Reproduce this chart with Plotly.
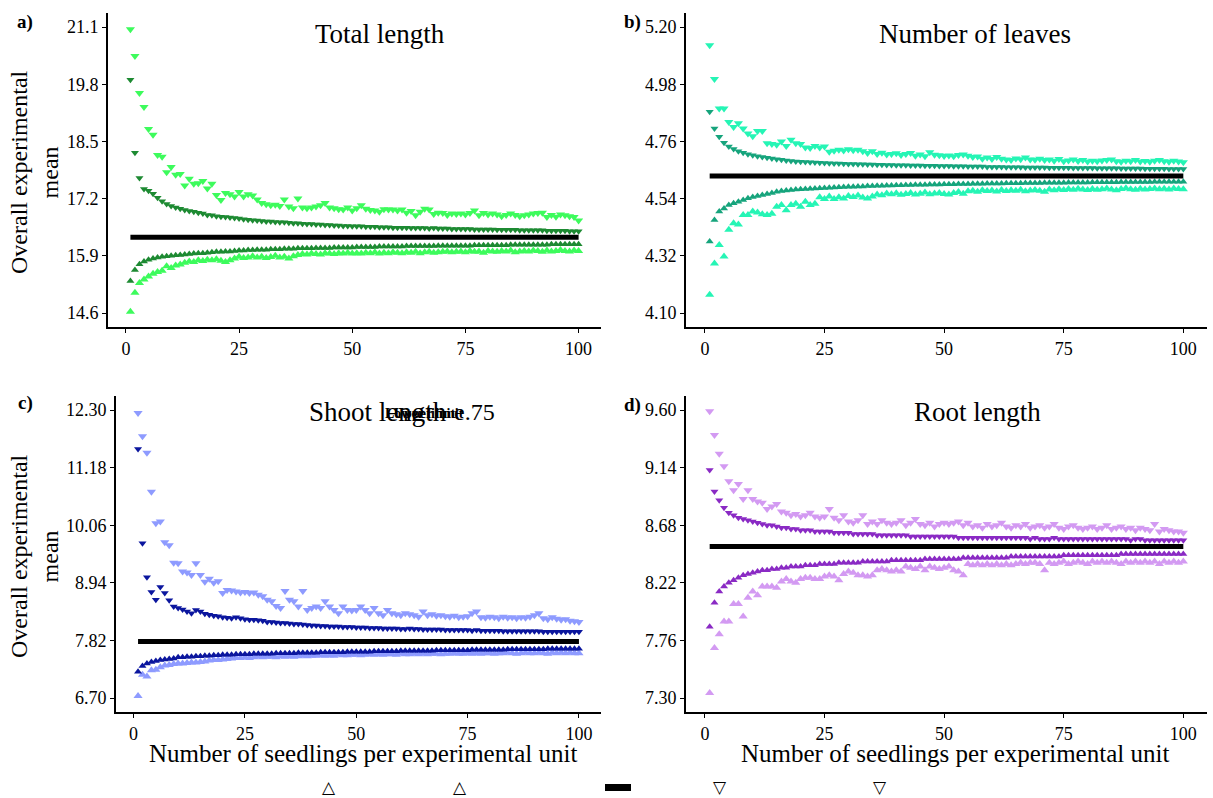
import plotly.graph_objects as go

W, H = 1213, 798

n = list(range(1, 101))

# ---------------- Panel a: Total length ----------------
a_light_up = [21.05, 20.44, 19.60, 19.28, 18.78, 18.65, 18.19, 18.15, 17.80, 17.92,
              17.74, 17.76, 17.50, 17.65, 17.54, 17.55, 17.60, 17.43, 17.54, 17.28,
              17.17, 17.33, 17.30, 17.25, 17.35, 17.25, 17.30, 17.27, 17.18, 17.10,
              17.07, 17.05, 17.06, 17.03, 17.18, 17.02, 16.98, 17.20, 17.00, 16.98,
              17.00, 17.02, 17.05, 17.10, 17.00, 16.98, 16.96, 16.95, 17.00, 16.93,
              16.98, 17.05, 16.97, 16.94, 16.93, 16.90, 16.96, 16.95, 16.95, 16.93,
              16.95, 16.88, 16.92, 16.82, 16.90, 16.97, 16.95, 16.85, 16.88, 16.87,
              16.83, 16.86, 16.85, 16.86, 16.84, 16.87, 16.93, 16.82, 16.87, 16.84,
              16.86, 16.84, 16.80, 16.83, 16.86, 16.83, 16.80, 16.82, 16.84, 16.86,
              16.87, 16.88, 16.78, 16.83, 16.79, 16.84, 16.82, 16.80, 16.78, 16.70]
a_dark_up = [19.90, 18.24, 17.67, 17.42, 17.38, 17.31, 17.22, 17.14, 17.08, 17.03,
             17.00, 16.97, 16.94, 16.92, 16.90, 16.88, 16.86, 16.83, 16.82, 16.80,
             16.79, 16.78, 16.77, 16.76, 16.75, 16.73, 16.72, 16.71, 16.70, 16.69,
             16.68, 16.68, 16.67, 16.66, 16.66, 16.65, 16.64, 16.64, 16.63, 16.62,
             16.62, 16.61, 16.61, 16.60, 16.60, 16.59, 16.59, 16.58, 16.58, 16.57,
             16.57, 16.57, 16.56, 16.56, 16.56, 16.55, 16.55, 16.55, 16.54, 16.54,
             16.54, 16.54, 16.53, 16.53, 16.53, 16.53, 16.52, 16.53, 16.52, 16.52,
             16.52, 16.51, 16.51, 16.51, 16.51, 16.51, 16.50, 16.50, 16.50, 16.50,
             16.50, 16.49, 16.49, 16.49, 16.49, 16.49, 16.48, 16.48, 16.48, 16.48,
             16.48, 16.48, 16.47, 16.47, 16.47, 16.47, 16.47, 16.46, 16.46, 16.46]
a_dark_lo = [15.33, 15.58, 15.71, 15.77, 15.81, 15.84, 15.86, 15.88, 15.89, 15.90,
             15.91, 15.92, 15.93, 15.94, 15.95, 15.96, 15.96, 15.97, 15.98, 15.99,
             15.99, 16.00, 16.00, 16.01, 16.02, 16.02, 16.03, 16.03, 16.04, 16.04,
             16.04, 16.05, 16.05, 16.05, 16.06, 16.06, 16.06, 16.07, 16.07, 16.07,
             16.07, 16.08, 16.08, 16.08, 16.08, 16.09, 16.09, 16.09, 16.09, 16.09,
             16.10, 16.10, 16.10, 16.10, 16.10, 16.11, 16.11, 16.11, 16.11, 16.11,
             16.11, 16.12, 16.12, 16.12, 16.12, 16.12, 16.12, 16.12, 16.13, 16.13,
             16.13, 16.13, 16.13, 16.13, 16.13, 16.13, 16.14, 16.14, 16.14, 16.14,
             16.14, 16.14, 16.14, 16.14, 16.15, 16.15, 16.15, 16.15, 16.15, 16.15,
             16.15, 16.15, 16.15, 16.16, 16.16, 16.16, 16.16, 16.16, 16.16, 16.16]
a_light_lo = [14.63, 15.06, 15.28, 15.36, 15.43, 15.49, 15.53, 15.56, 15.66, 15.62,
              15.68, 15.70, 15.74, 15.77, 15.76, 15.80, 15.78, 15.81, 15.80, 15.82,
              15.79, 15.76, 15.80, 15.84, 15.88, 15.85, 15.86, 15.89, 15.86, 15.88,
              15.85, 15.87, 15.90, 15.86, 15.88, 15.84, 15.89, 15.92, 15.94, 15.93,
              15.95, 15.94, 15.93, 15.96, 15.95, 15.94, 15.96, 15.95, 15.97, 15.95,
              15.96, 15.95, 15.97, 15.96, 15.98, 15.95, 15.97, 15.96, 15.98, 15.97,
              15.96, 15.98, 15.97, 15.99, 15.96, 15.98, 15.99, 15.97, 15.98, 15.99,
              16.00, 15.98, 15.99, 16.00, 15.98, 16.01, 15.99, 16.00, 15.97, 16.01,
              16.00, 15.99, 16.01, 16.00, 16.02, 15.98, 16.00, 16.01, 16.00, 16.02,
              16.01, 15.99, 16.02, 16.00, 16.01, 16.03, 16.01, 16.00, 16.02, 16.01]
a_mean = 16.32
a_ticks = [14.6, 15.9, 17.2, 18.5, 19.8, 21.1]
a_ticktext = ["14.6", "15.9", "17.2", "18.5", "19.8", "21.1"]

# ---------------- Panel b: Number of leaves ----------------
b_light_up = [5.130, 5.000, 4.887, 4.887, 4.835, 4.815, 4.830, 4.810, 4.790, 4.780,
              4.800, 4.800, 4.753, 4.750, 4.747, 4.760, 4.742, 4.766, 4.753, 4.750,
              4.737, 4.735, 4.742, 4.737, 4.740, 4.720, 4.724, 4.728, 4.725, 4.730,
              4.726, 4.728, 4.722, 4.715, 4.722, 4.712, 4.716, 4.710, 4.712, 4.714,
              4.708, 4.712, 4.715, 4.705, 4.710, 4.703, 4.718, 4.709, 4.707, 4.704,
              4.706, 4.703, 4.708, 4.710, 4.705, 4.700, 4.702, 4.693, 4.698, 4.692,
              4.700, 4.693, 4.690, 4.688, 4.694, 4.691, 4.698, 4.690, 4.689, 4.693,
              4.688, 4.690, 4.686, 4.692, 4.684, 4.687, 4.690, 4.685, 4.688, 4.683,
              4.686, 4.684, 4.687, 4.688, 4.690, 4.684, 4.682, 4.686, 4.684, 4.688,
              4.683, 4.685, 4.682, 4.686, 4.688, 4.684, 4.682, 4.686, 4.683, 4.680]
b_dark_up = [4.874, 4.810, 4.778, 4.755, 4.740, 4.731, 4.722, 4.716, 4.711, 4.707,
             4.703, 4.700, 4.697, 4.694, 4.691, 4.689, 4.687, 4.685, 4.683, 4.682,
             4.681, 4.680, 4.679, 4.678, 4.677, 4.676, 4.675, 4.675, 4.674, 4.673,
             4.673, 4.672, 4.672, 4.671, 4.671, 4.670, 4.670, 4.669, 4.669, 4.668,
             4.668, 4.668, 4.667, 4.667, 4.667, 4.666, 4.666, 4.666, 4.665, 4.665,
             4.665, 4.664, 4.664, 4.664, 4.663, 4.663, 4.663, 4.663, 4.662, 4.662,
             4.662, 4.662, 4.661, 4.661, 4.661, 4.661, 4.660, 4.660, 4.660, 4.660,
             4.660, 4.659, 4.659, 4.659, 4.659, 4.659, 4.658, 4.658, 4.658, 4.658,
             4.658, 4.657, 4.657, 4.657, 4.657, 4.657, 4.656, 4.656, 4.656, 4.656,
             4.656, 4.655, 4.655, 4.655, 4.655, 4.655, 4.654, 4.654, 4.654, 4.654]
b_dark_lo = [4.375, 4.458, 4.490, 4.502, 4.515, 4.522, 4.528, 4.535, 4.541, 4.546,
             4.550, 4.554, 4.558, 4.562, 4.566, 4.569, 4.571, 4.573, 4.575, 4.576,
             4.577, 4.578, 4.579, 4.580, 4.581, 4.582, 4.583, 4.584, 4.585, 4.586,
             4.586, 4.587, 4.587, 4.588, 4.588, 4.589, 4.589, 4.590, 4.590, 4.591,
             4.591, 4.592, 4.592, 4.593, 4.593, 4.593, 4.594, 4.594, 4.594, 4.595,
             4.595, 4.595, 4.596, 4.596, 4.596, 4.597, 4.597, 4.597, 4.598, 4.598,
             4.598, 4.598, 4.599, 4.599, 4.599, 4.599, 4.600, 4.600, 4.600, 4.600,
             4.601, 4.601, 4.601, 4.601, 4.601, 4.602, 4.602, 4.602, 4.602, 4.602,
             4.603, 4.603, 4.603, 4.603, 4.603, 4.603, 4.604, 4.604, 4.604, 4.604,
             4.604, 4.604, 4.604, 4.605, 4.605, 4.605, 4.605, 4.605, 4.605, 4.605]
b_light_lo = [4.170, 4.290, 4.362, 4.317, 4.420, 4.445, 4.440, 4.477, 4.477, 4.490,
              4.487, 4.480, 4.477, 4.482, 4.509, 4.515, 4.495, 4.515, 4.520, 4.509,
              4.528, 4.515, 4.520, 4.545, 4.538, 4.548, 4.538, 4.545, 4.540, 4.550,
              4.546, 4.552, 4.544, 4.540, 4.548, 4.556, 4.553, 4.560, 4.557, 4.561,
              4.555, 4.558, 4.562, 4.556, 4.559, 4.563, 4.557, 4.560, 4.562, 4.558,
              4.556, 4.562, 4.565, 4.559, 4.568, 4.570, 4.566, 4.572, 4.569, 4.571,
              4.567, 4.573, 4.569, 4.572, 4.570, 4.574, 4.568, 4.571, 4.573, 4.570,
              4.566, 4.575, 4.572, 4.576, 4.573, 4.577, 4.574, 4.578, 4.575, 4.573,
              4.577, 4.574, 4.576, 4.579, 4.575, 4.572, 4.577, 4.580, 4.576, 4.574,
              4.578, 4.575, 4.577, 4.579, 4.576, 4.578, 4.575, 4.579, 4.577, 4.576]
b_mean = 4.627
b_ticks = [4.10, 4.32, 4.54, 4.76, 4.98, 5.20]
b_ticktext = ["4.10", "4.32", "4.54", "4.76", "4.98", "5.20"]

# ---------------- Panel c: Shoot length ----------------
c_light_up = [12.24, 11.79, 11.47, 10.71, 10.10, 10.13, 9.73, 9.67, 9.33, 9.32,
              9.16, 9.14, 9.09, 9.32, 9.09, 8.96, 9.02, 8.94, 8.97, 8.74,
              8.80, 8.79, 8.77, 8.75, 8.76, 8.74, 8.75, 8.71, 8.68, 8.61,
              8.58, 8.49, 8.45, 8.78, 8.61, 8.58, 8.48, 8.78, 8.41, 8.45,
              8.48, 8.45, 8.58, 8.48, 8.41, 8.35, 8.48, 8.41, 8.40, 8.41,
              8.48, 8.41, 8.35, 8.45, 8.35, 8.31, 8.41, 8.35, 8.33, 8.31,
              8.35, 8.33, 8.31, 8.28, 8.38, 8.31, 8.33, 8.30, 8.31, 8.29,
              8.28, 8.30, 8.27, 8.28, 8.29, 8.35, 8.38, 8.27, 8.26, 8.28,
              8.27, 8.25, 8.28, 8.26, 8.27, 8.25, 8.27, 8.26, 8.28, 8.31,
              8.35, 8.25, 8.23, 8.27, 8.24, 8.22, 8.23, 8.20, 8.19, 8.18]
c_dark_up = [11.54, 9.71, 9.05, 8.76, 8.61, 8.86, 8.74, 8.60, 8.48, 8.45,
             8.42, 8.38, 8.35, 8.41, 8.38, 8.34, 8.32, 8.30, 8.29, 8.27,
             8.26, 8.25, 8.27, 8.25, 8.23, 8.22, 8.22, 8.21, 8.20, 8.18,
             8.18, 8.17, 8.16, 8.16, 8.15, 8.14, 8.14, 8.13, 8.12, 8.11,
             8.11, 8.10, 8.10, 8.09, 8.09, 8.09, 8.08, 8.08, 8.08, 8.07,
             8.07, 8.07, 8.06, 8.06, 8.06, 8.05, 8.05, 8.05, 8.05, 8.04,
             8.04, 8.05, 8.04, 8.04, 8.03, 8.03, 8.03, 8.03, 8.03, 8.02,
             8.02, 8.02, 8.02, 8.02, 8.02, 8.01, 8.02, 8.01, 8.01, 8.01,
             8.01, 8.01, 8.00, 8.00, 8.00, 8.00, 8.00, 8.00, 8.00, 8.00,
             8.00, 7.99, 7.99, 7.99, 7.99, 7.99, 7.99, 7.99, 7.99, 7.99]
c_dark_lo = [7.21, 7.32, 7.37, 7.40, 7.42, 7.44, 7.45, 7.46, 7.47, 7.49,
             7.49, 7.50, 7.50, 7.51, 7.51, 7.52, 7.52, 7.53, 7.53, 7.54,
             7.54, 7.54, 7.55, 7.55, 7.55, 7.55, 7.56, 7.56, 7.56, 7.56,
             7.56, 7.57, 7.57, 7.57, 7.57, 7.57, 7.58, 7.58, 7.58, 7.58,
             7.58, 7.59, 7.59, 7.59, 7.59, 7.59, 7.59, 7.60, 7.60, 7.60,
             7.60, 7.60, 7.60, 7.61, 7.61, 7.61, 7.61, 7.61, 7.61, 7.62,
             7.62, 7.62, 7.62, 7.62, 7.62, 7.62, 7.62, 7.63, 7.63, 7.63,
             7.63, 7.63, 7.63, 7.63, 7.63, 7.64, 7.64, 7.64, 7.64, 7.64,
             7.64, 7.64, 7.64, 7.65, 7.65, 7.65, 7.65, 7.65, 7.65, 7.65,
             7.65, 7.65, 7.66, 7.66, 7.66, 7.66, 7.66, 7.66, 7.66, 7.66]
c_light_lo = [6.74, 7.15, 7.12, 7.24, 7.25, 7.30, 7.33, 7.34, 7.36, 7.37,
              7.37, 7.38, 7.39, 7.39, 7.40, 7.41, 7.43, 7.44, 7.44, 7.45,
              7.46, 7.47, 7.48, 7.48, 7.49, 7.48, 7.49, 7.50, 7.49, 7.50,
              7.50, 7.49, 7.51, 7.50, 7.51, 7.50, 7.51, 7.52, 7.51, 7.52,
              7.52, 7.53, 7.52, 7.53, 7.52, 7.54, 7.53, 7.53, 7.54, 7.54,
              7.53, 7.54, 7.55, 7.54, 7.55, 7.54, 7.55, 7.55, 7.54, 7.56,
              7.55, 7.55, 7.56, 7.55, 7.56, 7.55, 7.56, 7.56, 7.55, 7.56,
              7.56, 7.57, 7.56, 7.56, 7.57, 7.56, 7.57, 7.56, 7.57, 7.57,
              7.56, 7.57, 7.57, 7.58, 7.57, 7.56, 7.57, 7.58, 7.57, 7.57,
              7.58, 7.57, 7.56, 7.58, 7.57, 7.58, 7.57, 7.58, 7.57, 7.57]
c_mean = 7.80
c_ticks = [6.70, 7.82, 8.94, 10.06, 11.18, 12.30]
c_ticktext = ["6.70", "7.82", "8.94", "10.06", "11.18", "12.30"]

# ---------------- Panel d: Root length ----------------
d_light_up = [9.59, 9.40, 9.25, 9.15, 9.03, 8.96, 9.01, 8.89, 8.96, 8.89,
              8.87, 8.86, 8.81, 8.83, 8.85, 8.79, 8.78, 8.76, 8.77, 8.75,
              8.76, 8.78, 8.75, 8.74, 8.75, 8.81, 8.74, 8.72, 8.76, 8.71,
              8.70, 8.72, 8.76, 8.69, 8.71, 8.69, 8.72, 8.70, 8.69, 8.70,
              8.72, 8.68, 8.70, 8.73, 8.69, 8.68, 8.70, 8.67, 8.69, 8.70,
              8.69, 8.70, 8.71, 8.68, 8.70, 8.67, 8.68, 8.66, 8.69, 8.67,
              8.68, 8.70, 8.67, 8.66, 8.68, 8.67, 8.69, 8.66, 8.67, 8.68,
              8.66, 8.67, 8.69, 8.66, 8.65, 8.67, 8.68, 8.66, 8.65, 8.66,
              8.67, 8.65, 8.66, 8.68, 8.65, 8.66, 8.67, 8.65, 8.66, 8.64,
              8.66, 8.65, 8.64, 8.69, 8.63, 8.65, 8.64, 8.63, 8.63, 8.62]
d_dark_up = [9.12, 8.95, 8.88, 8.82, 8.78, 8.76, 8.74, 8.73, 8.72, 8.71,
             8.70, 8.69, 8.68, 8.68, 8.67, 8.66, 8.66, 8.65, 8.65, 8.64,
             8.64, 8.64, 8.63, 8.63, 8.63, 8.63, 8.62, 8.62, 8.62, 8.62,
             8.61, 8.61, 8.61, 8.61, 8.61, 8.60, 8.60, 8.60, 8.60, 8.60,
             8.60, 8.60, 8.59, 8.59, 8.59, 8.59, 8.59, 8.59, 8.59, 8.59,
             8.59, 8.59, 8.58, 8.58, 8.58, 8.58, 8.58, 8.58, 8.58, 8.58,
             8.58, 8.58, 8.58, 8.58, 8.58, 8.58, 8.58, 8.57, 8.58, 8.57,
             8.57, 8.57, 8.58, 8.57, 8.57, 8.57, 8.57, 8.57, 8.57, 8.57,
             8.57, 8.57, 8.57, 8.57, 8.57, 8.57, 8.57, 8.57, 8.56, 8.57,
             8.57, 8.56, 8.56, 8.56, 8.56, 8.56, 8.56, 8.56, 8.56, 8.56]
d_dark_lo = [7.87, 8.06, 8.15, 8.19, 8.22, 8.24, 8.26, 8.28, 8.29, 8.30,
             8.31, 8.32, 8.32, 8.33, 8.33, 8.34, 8.34, 8.35, 8.35, 8.35,
             8.36, 8.36, 8.36, 8.37, 8.37, 8.37, 8.37, 8.38, 8.38, 8.38,
             8.38, 8.38, 8.39, 8.39, 8.39, 8.39, 8.39, 8.39, 8.40, 8.40,
             8.40, 8.40, 8.40, 8.40, 8.40, 8.41, 8.41, 8.41, 8.41, 8.41,
             8.41, 8.41, 8.41, 8.42, 8.42, 8.42, 8.42, 8.42, 8.42, 8.42,
             8.42, 8.42, 8.42, 8.43, 8.43, 8.43, 8.43, 8.43, 8.43, 8.43,
             8.43, 8.43, 8.43, 8.43, 8.44, 8.44, 8.44, 8.44, 8.44, 8.44,
             8.44, 8.44, 8.44, 8.44, 8.44, 8.44, 8.45, 8.45, 8.45, 8.45,
             8.45, 8.45, 8.45, 8.45, 8.45, 8.45, 8.45, 8.45, 8.45, 8.45]
d_light_lo = [7.34, 7.70, 7.81, 7.91, 7.91, 8.05, 8.05, 7.95, 8.10, 8.15,
              8.12, 8.19, 8.19, 8.19, 8.18, 8.23, 8.25, 8.23, 8.22, 8.25,
              8.26, 8.26, 8.25, 8.25, 8.27, 8.28, 8.27, 8.24, 8.29, 8.31,
              8.30, 8.28, 8.28, 8.27, 8.28, 8.32, 8.33, 8.32, 8.31, 8.32,
              8.31, 8.35, 8.34, 8.33, 8.35, 8.32, 8.35, 8.34, 8.33, 8.34,
              8.35, 8.32, 8.31, 8.28, 8.37, 8.36, 8.37, 8.36, 8.37, 8.36,
              8.37, 8.36, 8.37, 8.36, 8.37, 8.38, 8.37, 8.38, 8.38, 8.37,
              8.32, 8.38, 8.37, 8.38, 8.39, 8.37, 8.38, 8.39, 8.38, 8.37,
              8.39, 8.38, 8.39, 8.38, 8.39, 8.38, 8.37, 8.39, 8.38, 8.39,
              8.38, 8.39, 8.38, 8.39, 8.37, 8.39, 8.38, 8.39, 8.38, 8.39]
d_mean = 8.51
d_ticks = [7.30, 7.76, 8.22, 8.68, 9.14, 9.60]
d_ticktext = ["7.30", "7.76", "8.22", "8.68", "9.14", "9.60"]

x_ticks = [0, 25, 50, 75, 100]
titles = ["Total length", "Number of leaves", "Shoot length", "Root length"]
labels = ["a)", "b)", "c)", "d)"]
y_title = "Overall experimental<br>mean"
x_title = "Number of seedlings per experimental unit"

panels = [
    dict(lu=a_light_up, du=a_dark_up, dl=a_dark_lo, ll=a_light_lo, mean=a_mean,
         ticks=a_ticks, tt=a_ticktext, light="#3dfb5c", dark="#1d8a32"),
    dict(lu=b_light_up, du=b_dark_up, dl=b_dark_lo, ll=b_light_lo, mean=b_mean,
         ticks=b_ticks, tt=b_ticktext, light="#25f5b5", dark="#16a47c"),
    dict(lu=c_light_up, du=c_dark_up, dl=c_dark_lo, ll=c_light_lo, mean=c_mean,
         ticks=c_ticks, tt=c_ticktext, light="#8e9bff", dark="#0b169e"),
    dict(lu=d_light_up, du=d_dark_up, dl=d_dark_lo, ll=d_light_lo, mean=d_mean,
         ticks=d_ticks, tt=d_ticktext, light="#d39af2", dark="#8a2ac4"),
]

# layout geometry in pixels (left, right, top, bottom)
boxes = [(108, 601, 12.7, 327.3), (686, 1207, 12.7, 327.3),
         (116, 601, 395.6, 712.4), (686, 1207, 395.6, 712.4)]

FONT = "Liberation Serif, Times New Roman, serif"

fig = go.Figure()
layout = dict(width=W, height=H, margin=dict(l=0, r=0, t=0, b=0),
              paper_bgcolor="white", plot_bgcolor="white", showlegend=False,
              font=dict(family=FONT, color="black"))

for i, p in enumerate(panels):
    k = "" if i == 0 else str(i + 1)
    xa, ya = "x" + k, "y" + k
    mk = lambda sym, col, sz: dict(symbol=sym, color=col, size=sz, line=dict(width=0))
    fig.add_trace(go.Scatter(x=n, y=p["lu"], mode="markers", xaxis=xa, yaxis=ya,
                             marker=mk("triangle-down", p["light"], 8)))
    fig.add_trace(go.Scatter(x=n, y=p["ll"], mode="markers", xaxis=xa, yaxis=ya,
                             marker=mk("triangle-up", p["light"], 8)))
    fig.add_trace(go.Scatter(x=n, y=p["du"], mode="markers", xaxis=xa, yaxis=ya,
                             marker=mk("triangle-down", p["dark"], 7)))
    fig.add_trace(go.Scatter(x=n, y=p["dl"], mode="markers", xaxis=xa, yaxis=ya,
                             marker=mk("triangle-up", p["dark"], 7)))
    fig.add_trace(go.Scatter(x=n, y=[p["mean"]] * len(n), mode="lines", xaxis=xa, yaxis=ya,
                             line=dict(color="black", width=5)))
    l, r, t, b = boxes[i]
    lo, hi = p["ticks"][0], p["ticks"][-1]
    pad = (hi - lo) * 0.05
    common = dict(showline=True, linecolor="black", linewidth=1.6, ticks="outside",
                  ticklen=4, tickwidth=1.2, tickcolor="black", showgrid=False,
                  zeroline=False, tickfont=dict(family=FONT, size=18, color="black"))
    layout["xaxis" + k] = dict(domain=[l / W, r / W], range=[-3.95, 104.95],
                               tickvals=x_ticks, anchor=ya, **common)
    layout["yaxis" + k] = dict(domain=[1 - b / H, 1 - t / H], range=[lo - pad, hi + pad],
                               tickvals=p["ticks"], ticktext=p["tt"], anchor=xa, **common)

fig.update_layout(**layout)


def px(x, y):
    return x / W, 1 - y / H


ann = []
def add_text(text, x, y, size, bold=False, angle=0, xanchor="center", family=FONT):
    xx, yy = px(x, y)
    ann.append(dict(text=("<b>%s</b>" % text) if bold else text, x=xx, y=yy,
                    xref="paper", yref="paper", showarrow=False, textangle=angle,
                    xanchor=xanchor, yanchor="middle",
                    font=dict(family=family, size=size, color="black")))

# panel titles
add_text(titles[0], 380, 34, 27)
add_text(titles[1], 975, 34, 27)
add_text(titles[2], 378, 412, 27)
add_text(titles[3], 977, 412, 27)
# garbled overlapping legend text printed over the panel c title
add_text("Lower limit", 383, 413, 14, bold=True, xanchor="left")
add_text("Upper limit", 392, 413, 14, bold=True, xanchor="left")
add_text("e.75", 452, 412, 24, xanchor="left")
# panel labels
add_text(labels[0], 25, 22, 19, bold=True)
add_text(labels[1], 632, 22, 19, bold=True)
add_text(labels[2], 25, 403, 19, bold=True)
add_text(labels[3], 632, 405, 19, bold=True)
# y titles
add_text(y_title, 34, 172, 24, angle=-90)
add_text(y_title, 34, 556, 24, angle=-90)
# x titles
add_text(x_title, 363, 753, 25)
add_text(x_title, 955, 753, 25)
# bottom legend glyphs
for gx, g in [(329, "△"), (460, "△"), (720, "▽"), (880, "▽")]:
    add_text(g, gx, 787, 17, family="DejaVu Sans")

fig.update_layout(annotations=ann)
bx0, by0 = px(605, 784)
bx1, by1 = px(631, 791)
fig.add_shape(type="rect", xref="paper", yref="paper", x0=bx0, x1=bx1, y0=by1, y1=by0,
              fillcolor="black", line=dict(width=0))

fig.write_html("out.html")
